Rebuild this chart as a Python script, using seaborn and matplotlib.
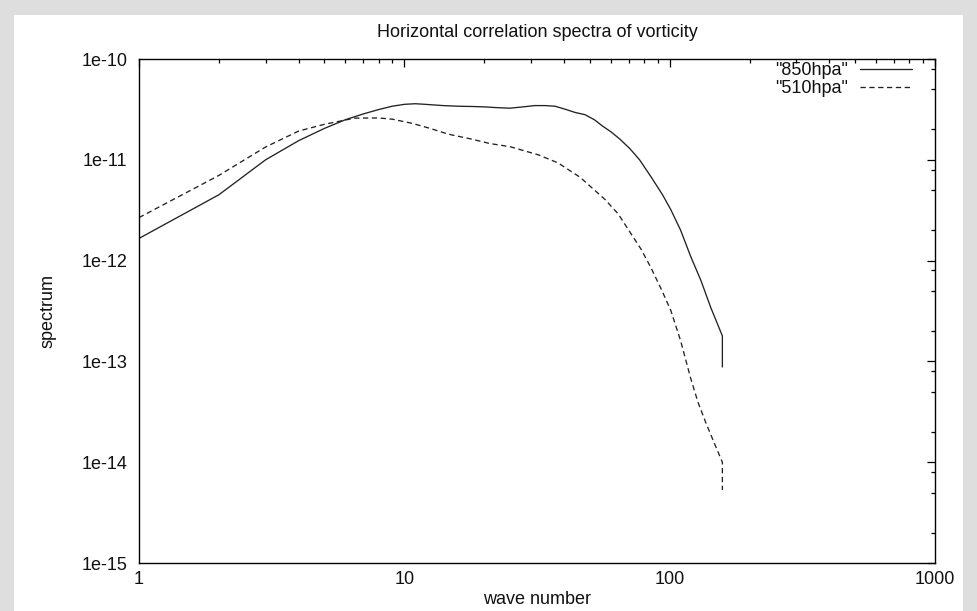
import numpy as np
import pandas as pd
import matplotlib
matplotlib.use("Agg")
import matplotlib.pyplot as plt
import seaborn as sns
from matplotlib.ticker import LogLocator, NullFormatter, FixedLocator, FixedFormatter
from matplotlib.patches import Rectangle

# ---------------- data ----------------
wave_850 = [1, 2, 3, 4, 5, 6, 7, 8, 9, 10, 11, 12, 14, 16, 18, 20, 22, 25, 28, 31,
            34, 37, 40, 44, 48, 52, 56, 60, 65, 71, 77, 85, 94, 101, 110, 120, 131,
            143, 158, 158]
spec_850 = [1.66e-12, 4.5e-12, 1.0e-11, 1.55e-11, 2.05e-11, 2.5e-11, 2.85e-11, 3.15e-11,
            3.4e-11, 3.55e-11, 3.6e-11, 3.55e-11, 3.45e-11, 3.4e-11, 3.38e-11, 3.35e-11,
            3.3e-11, 3.25e-11, 3.35e-11, 3.45e-11, 3.45e-11, 3.4e-11, 3.2e-11, 2.95e-11,
            2.8e-11, 2.5e-11, 2.15e-11, 1.9e-11, 1.6e-11, 1.28e-11, 1.0e-11, 6.8e-12,
            4.5e-12, 3.2e-12, 2.0e-12, 1.1e-12, 6.4e-13, 3.4e-13, 1.79e-13, 8.8e-14]

wave_510 = [1, 2, 3, 4, 5, 6.5, 8, 9, 10.7, 12.5, 14.6, 18, 21, 25, 32, 38, 46, 57, 64,
            71, 78, 85, 93, 101, 110, 120, 128, 137, 148, 158, 158]
spec_510 = [2.67e-12, 7.0e-12, 1.34e-11, 1.93e-11, 2.25e-11, 2.59e-11, 2.6e-11, 2.53e-11,
            2.3e-11, 2.05e-11, 1.8e-11, 1.6e-11, 1.45e-11, 1.35e-11, 1.12e-11, 9.3e-12,
            6.7e-12, 4.05e-12, 2.9e-12, 1.9e-12, 1.3e-12, 8.5e-13, 5.2e-13, 3.2e-13,
            1.6e-13, 6.8e-14, 3.9e-14, 2.45e-14, 1.5e-14, 1.0e-14, 5.3e-15]

series_labels = ['"850hpa"', '"510hpa"']
x_ticks = [1, 10, 100, 1000]
x_tick_labels = ["1", "10", "100", "1000"]
y_ticks = [1e-15, 1e-14, 1e-13, 1e-12, 1e-11, 1e-10]
y_tick_labels = ["1e-15", "1e-14", "1e-13", "1e-12", "1e-11", "1e-10"]
title = "Horizontal correlation spectra of vorticity"
xlabel = "wave number"
ylabel = "spectrum"

df = pd.concat([
    pd.DataFrame({"wave": wave_850, "spec": spec_850, "series": series_labels[0]}),
    pd.DataFrame({"wave": wave_510, "spec": spec_510, "series": series_labels[1]}),
], ignore_index=True)

# ---------------- style ----------------
sns.set_theme(style="white")
plt.rcParams["font.family"] = ["Liberation Sans", "DejaVu Sans"]
FS = 13

W, H = 977, 611
fig = plt.figure(figsize=(W / 100, H / 100), dpi=100)
fig.patch.set_facecolor("#dedede")
fig.add_artist(Rectangle((14 / W, 0), (963 - 14) / W, (H - 15) / H,
                         transform=fig.transFigure, facecolor="white",
                         edgecolor="none", zorder=-5))

L, R, T, B = 139, 935, 59, 563
ax = fig.add_axes([L / W, (H - B) / H, (R - L) / W, (B - T) / H])
ax.set_facecolor("white")

sns.lineplot(data=df, x="wave", y="spec", hue="series", style="series",
             palette={series_labels[0]: "#222222", series_labels[1]: "#222222"},
             dashes={series_labels[0]: "", series_labels[1]: (4, 2.7)},
             estimator=None, sort=False, linewidth=0.95, ax=ax, legend=False)

ax.set_xscale("log")
ax.set_yscale("log")
ax.set_xlim(1, 1000)
ax.set_ylim(1e-15, 1e-10)

ax.xaxis.set_major_locator(FixedLocator(x_ticks))
ax.xaxis.set_major_formatter(FixedFormatter(x_tick_labels))
ax.xaxis.set_minor_locator(LogLocator(base=10, subs=tuple(range(2, 10)), numticks=20))
ax.xaxis.set_minor_formatter(NullFormatter())
ax.yaxis.set_major_locator(FixedLocator(y_ticks))
ax.yaxis.set_major_formatter(FixedFormatter(y_tick_labels))
ax.yaxis.set_minor_locator(LogLocator(base=10, subs=(2, 5, 8), numticks=20))
ax.yaxis.set_minor_formatter(NullFormatter())

for s in ax.spines.values():
    s.set_visible(True)
    s.set_color("black")
    s.set_linewidth(1.0)

ax.tick_params(which="both", direction="in", top=True, right=True,
               color="black", width=0.9, labelsize=FS, labelcolor="#111111")
ax.tick_params(which="major", length=6)
ax.tick_params(which="minor", length=3)
ax.tick_params(axis="y", which="major", pad=8.5)
ax.tick_params(axis="x", which="major", pad=5.5)

ax.set_title(title, fontsize=FS, pad=15.5, color="#111111")
ax.set_xlabel(xlabel, fontsize=FS, color="#111111")
ax.set_ylabel(ylabel, fontsize=FS, color="#111111")
ax.xaxis.label.set_va("center")
ax.yaxis.label.set_va("center")
ax.xaxis.set_label_coords(0.5, (B - 600) / (B - T))
ax.yaxis.set_label_coords((48 - L) / (R - L), 0.5)

handles = ax.get_lines()[:2]
leg = ax.legend(handles, series_labels, loc="upper right",
                bbox_to_anchor=(912 / W, 1 - 62 / H), bbox_transform=fig.transFigure,
                frameon=False, markerfirst=False, fontsize=FS, handlelength=2.9,
                handletextpad=0.65, labelspacing=0.08, borderpad=0, borderaxespad=0)
for t in leg.get_texts():
    t.set_color("#111111")

fig.savefig("out.png", dpi=100, facecolor=fig.get_facecolor())
